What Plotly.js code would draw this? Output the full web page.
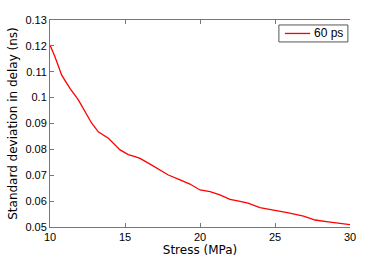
<!DOCTYPE html>
<html><head><meta charset="utf-8">
<script src="https://cdn.plot.ly/plotly-3.0.1.min.js"></script>
<style>html,body{margin:0;padding:0;background:#fff}#c{width:388px;height:259px}</style>
</head><body><div id="c"></div>
<script>
const stress = [10, 10.33, 10.78, 11.33, 11.89, 12.33, 12.78, 13.22, 13.89, 14.67, 15.22, 15.67, 16, 16.67, 17.33, 17.89, 18.67, 19.33, 20, 20.67, 21.33, 22, 22.6, 23.2, 24, 25, 25.9, 26.9, 27.67, 28.55, 29.45, 30];
const sd60 = [0.1203, 0.1158, 0.1087, 0.1036, 0.0991, 0.0946, 0.0901, 0.0868, 0.0843, 0.0798, 0.0780, 0.0772, 0.0765, 0.0743, 0.0720, 0.0701, 0.0682, 0.0666, 0.0643, 0.0637, 0.0624, 0.0607, 0.0600, 0.0592, 0.0575, 0.0566, 0.0555, 0.0542, 0.0527, 0.0520, 0.0514, 0.0509];
const seriesName = '60 ps';
const xTicks = [10, 15, 20, 25, 30];
const yTicks = [0.05, 0.06, 0.07, 0.08, 0.09, 0.1, 0.11, 0.12, 0.13];
const yTickText = ['0.05','0.06','0.07','0.08','0.09','0.1','0.11','0.12','0.13'];

const tickFont = {family: 'Liberation Sans, Arial, sans-serif', size: 11, color: '#000'};
const titleFont = {family: 'DejaVu Sans, Verdana, sans-serif', size: 12, color: '#000'};
const red = '#ff0000';

Plotly.newPlot('c', [{
  x: stress, y: sd60, type: 'scatter', mode: 'lines', name: seriesName,
  line: {color: red, width: 1.3}
}], {
  width: 388, height: 259,
  margin: {l: 50, r: 38, t: 20, b: 32},
  paper_bgcolor: '#fff', plot_bgcolor: '#fff',
  showlegend: false,
  shapes: [
    {type: 'rect', xref: 'paper', yref: 'paper', x0: 0.763, x1: 0.993, y0: 0.894, y1: 0.976,
     line: {color: '#555', width: 1}, fillcolor: '#fff'},
    {type: 'line', xref: 'paper', yref: 'paper', x0: 0.783, x1: 0.867, y0: 0.935, y1: 0.935,
     line: {color: red, width: 1.3}}
  ],
  annotations: [
    {xref: 'paper', yref: 'paper', x: 0.874, y: 0.935, xanchor: 'left', yanchor: 'middle',
     text: seriesName, showarrow: false, font: {family: 'Liberation Sans, Arial, sans-serif', size: 12, color: '#000'}}
  ],
  xaxis: {range: [10, 30], tickvals: xTicks, ticktext: xTicks.map(String), ticks: 'inside', ticklen: 4,
          tickcolor: '#777', showline: true, linecolor: '#777', linewidth: 1, mirror: 'ticks',
          showgrid: false, zeroline: false, tickfont: tickFont,
          title: {text: 'Stress (MPa)', font: titleFont, standoff: 3}},
  yaxis: {range: [0.05, 0.13], tickvals: yTicks, ticktext: yTickText, ticks: 'inside', ticklen: 4,
          tickcolor: '#777', showline: true, linecolor: '#777', linewidth: 1,
          showgrid: false, zeroline: false, tickfont: tickFont,
          title: {text: 'Standard deviation in delay (ns)', font: titleFont, standoff: 5}},
  yaxis2: {range: [0.05, 0.13], overlaying: 'y', side: 'right', tickvals: yTicks, ticks: 'inside', ticklen: 4,
           tickcolor: '#000', showline: true, linecolor: '#000', linewidth: 1.2, showticklabels: false,
           showgrid: false, zeroline: false}
}, {displayModeBar: false, staticPlot: true});
</script></body></html>
